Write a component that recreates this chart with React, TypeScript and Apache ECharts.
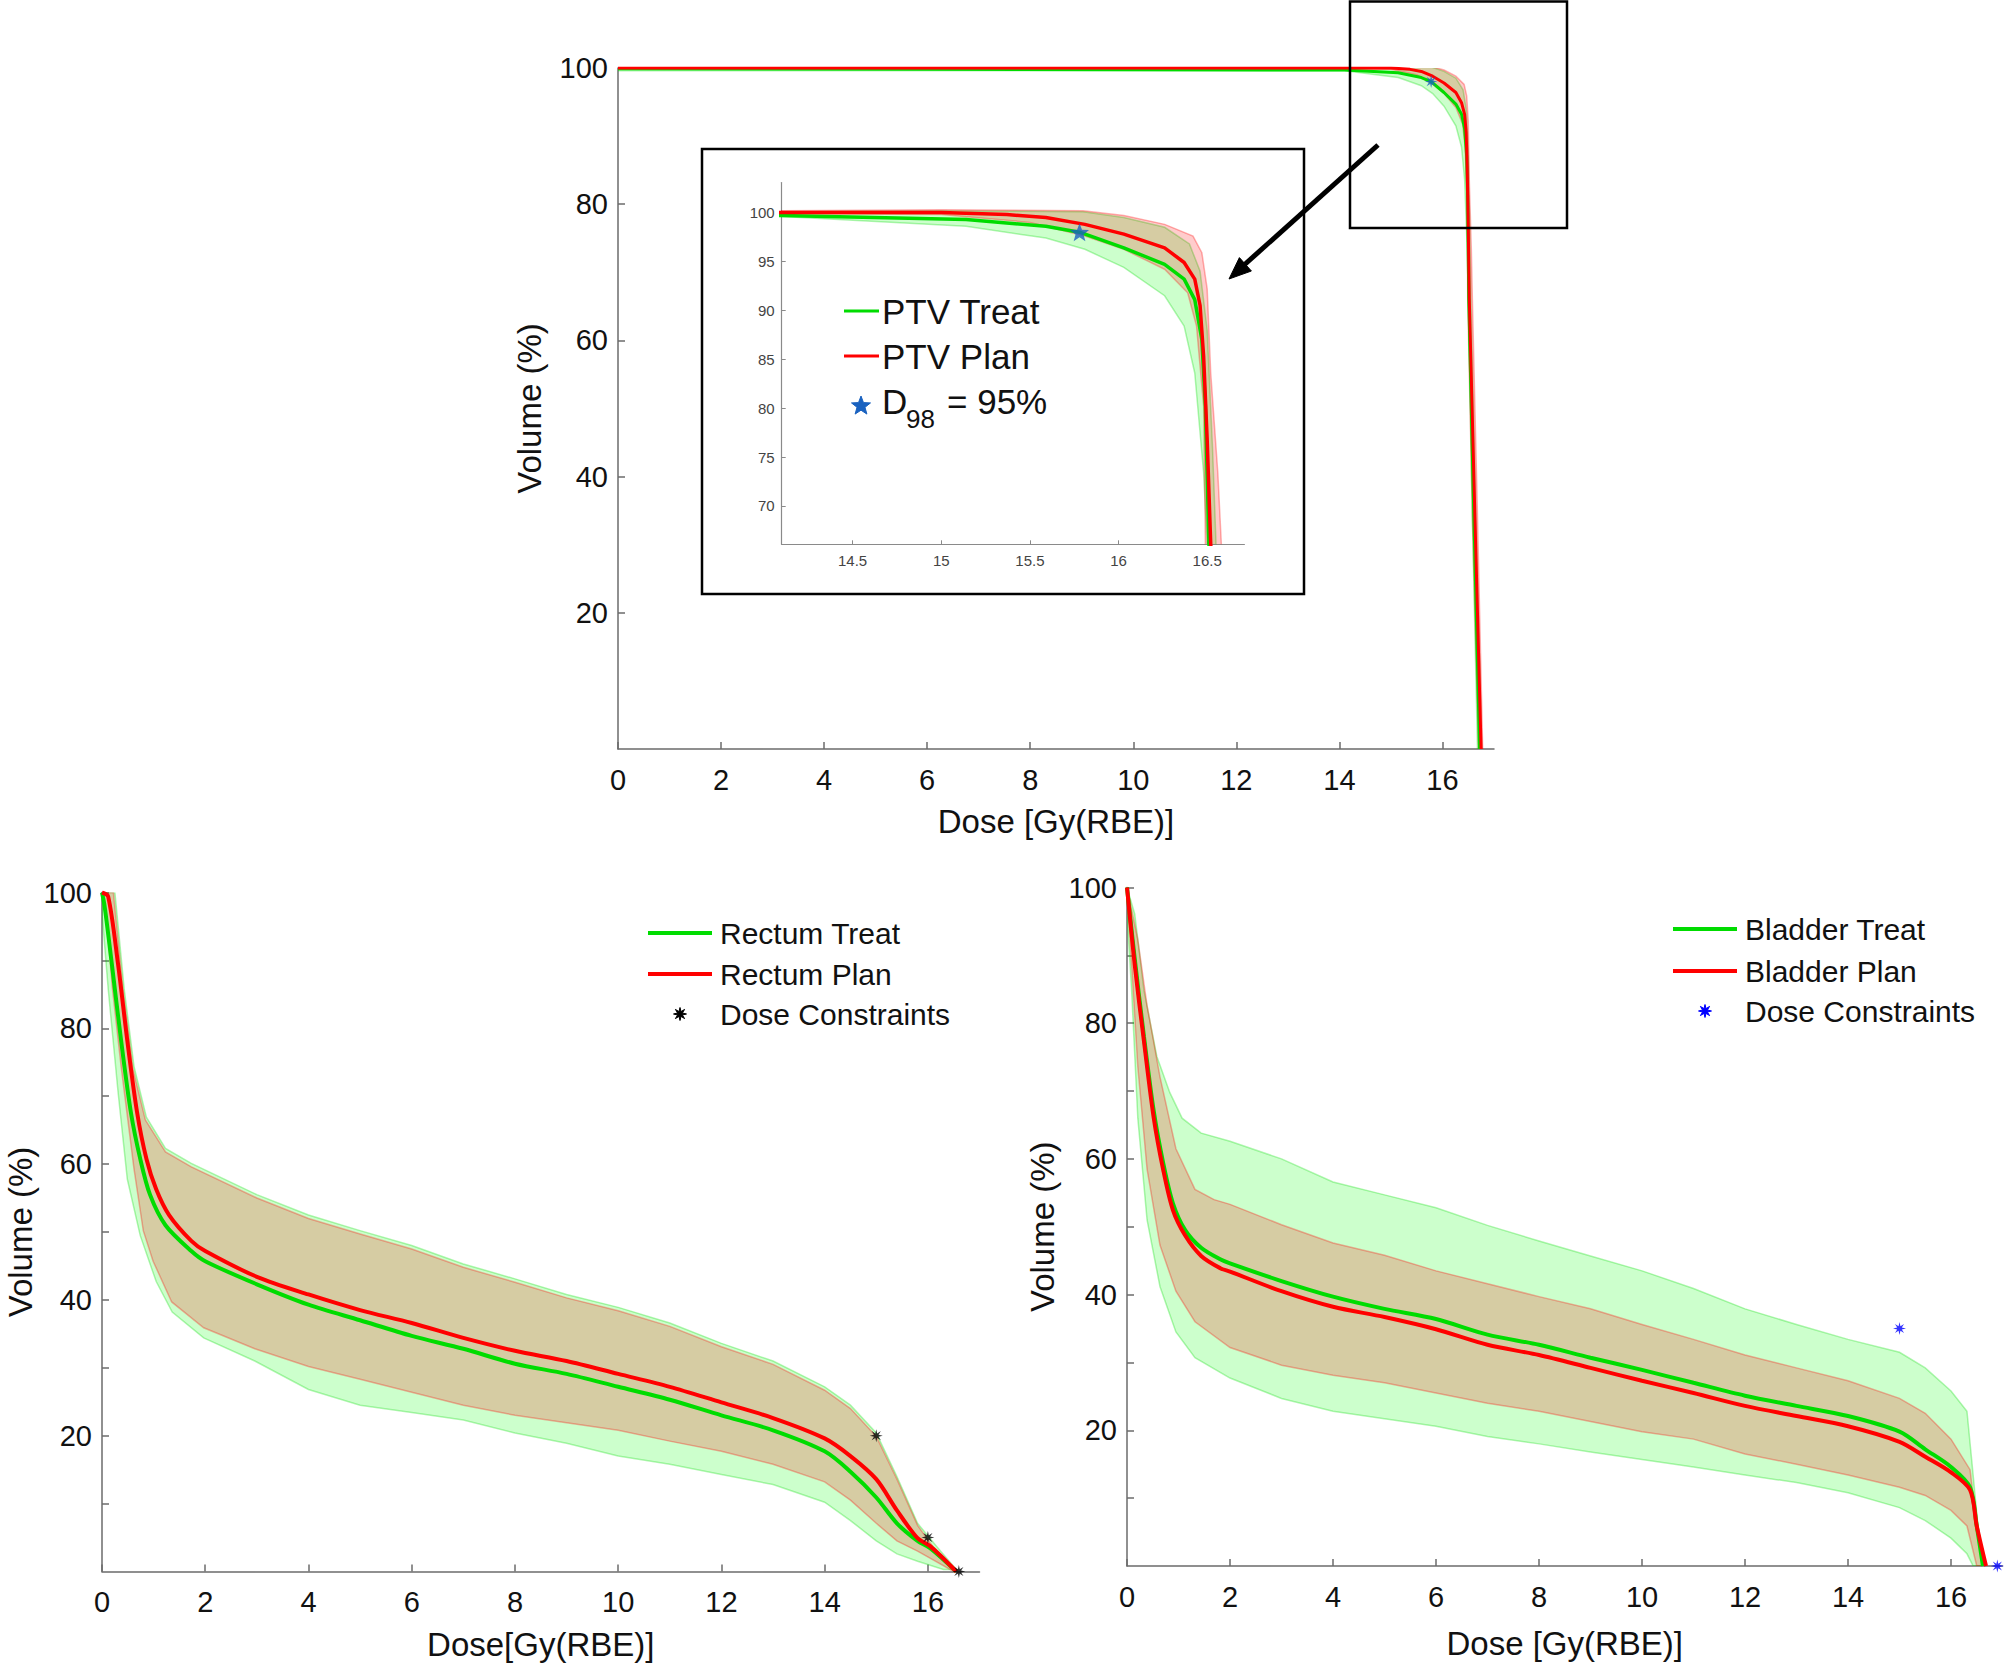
import React, { useEffect, useRef } from "react";
import * as echarts from "echarts";

// ---------- PTV (top chart + inset) ----------
const ptvPlanDose = [0, 14.1, 15.0, 15.37, 15.59, 15.81, 16.03, 16.26, 16.37, 16.43, 16.46, 16.48, 16.5, 16.52, 16.63, 16.75];
const ptvPlanVol = [100, 100, 100, 99.8, 99.5, 98.8, 97.8, 96.4, 94.9, 93.2, 90.5, 85.3, 76.8, 66.1, 34, 0];
const ptvTreatDose = [0, 6, 14.1, 15.14, 15.59, 15.78, 16.03, 16.26, 16.37, 16.43, 16.47, 16.49, 16.51, 16.61, 16.72];
const ptvTreatVol = [99.9, 99.8, 99.7, 99.3, 98.6, 98.0, 96.4, 94.7, 93.2, 91.1, 87.0, 80.2, 66.1, 34, 0];
const ptvPlanHiDose = [0, 14.1, 15.0, 15.8, 16.03, 16.26, 16.42, 16.47, 16.5, 16.52, 16.56, 16.58, 16.68, 16.78];
const ptvPlanHiVol = [100, 100.2, 100.3, 100.2, 99.7, 98.8, 97.6, 95.9, 92.2, 83.6, 73.4, 66.1, 34, 0];
const ptvPlanLoDose = [0, 14.1, 15.0, 15.5, 15.81, 16.03, 16.26, 16.39, 16.44, 16.48, 16.49, 16.58, 16.7];
const ptvPlanLoVol = [100, 99.9, 99.8, 99.0, 97.6, 96.25, 94.2, 91.8, 88.4, 80.2, 66.1, 34, 0];
const ptvTreatHiDose = [0, 14.1, 15.0, 15.8, 16.03, 16.26, 16.4, 16.46, 16.5, 16.53, 16.55, 16.65, 16.76];
const ptvTreatHiVol = [100, 100.1, 100.2, 100.1, 99.5, 98.5, 96.8, 94.0, 88.0, 76.0, 66.1, 34, 0];
const ptvTreatLoDose = [0, 14.1, 15.14, 15.59, 15.81, 16.03, 16.26, 16.37, 16.43, 16.48, 16.5, 16.58, 16.68];
const ptvTreatLoVol = [99.6, 99.6, 98.6, 97.4, 96.25, 94.4, 91.5, 88.4, 83.6, 73.4, 66.1, 34, 0];
const d98Point = [15.78, 98.0];

// ---------- Rectum ----------
const rectumPlanDose = [0, 0.12, 0.31, 0.49, 0.68, 0.86, 1.05, 1.3, 1.73, 2, 3, 4, 5, 6, 7, 8, 9, 10, 11, 12, 13, 14, 14.5, 15, 15.4, 15.8, 16.05, 16.55];
const rectumPlanVol = [100, 99.4, 89.5, 78.2, 67.6, 60.8, 56.3, 52.5, 48.7, 47.2, 43.4, 40.8, 38.5, 36.6, 34.4, 32.5, 31.0, 29.1, 27.2, 24.9, 22.6, 19.6, 17.0, 13.6, 9.0, 4.9, 3.7, 0];
const rectumTreatDose = [0, 0.05, 0.19, 0.37, 0.56, 0.74, 0.93, 1.23, 1.73, 2, 3, 4, 5, 6, 7, 8, 9, 10, 11, 12, 13, 14, 14.5, 15, 15.4, 15.8, 16.05, 16.55];
const rectumTreatVol = [100, 98, 89.5, 78.2, 67.6, 60.8, 55.5, 51.0, 47.2, 45.7, 42.3, 39.3, 37.0, 34.7, 32.8, 30.6, 29.1, 27.2, 25.3, 23.0, 20.8, 17.7, 14.7, 10.9, 7.1, 4.5, 3.4, 0];
const rectumTreatHiDose = [0, 0.25, 0.43, 0.62, 0.86, 1.23, 1.73, 3, 4, 5, 6, 7, 8, 9, 10, 11, 12, 13, 14, 14.5, 15, 15.4, 15.8, 16.17, 16.55];
const rectumTreatHiVol = [100, 100, 85.8, 74.4, 66.9, 62.3, 60.1, 55.5, 52.5, 50.2, 48.0, 45.3, 43.1, 40.8, 38.9, 36.6, 33.6, 31.0, 27.2, 24.5, 20.4, 14.0, 7.1, 3.7, 0.3];
const rectumPlanHiDose = [0, 0.22, 0.41, 0.6, 0.84, 1.23, 1.73, 3, 4, 5, 6, 7, 8, 9, 10, 11, 12, 13, 14, 14.5, 15, 15.4, 15.8, 16.1, 16.5];
const rectumPlanHiVol = [100, 100, 85.5, 74, 66.5, 61.8, 59.6, 55, 52, 49.7, 47.5, 44.8, 42.6, 40.3, 38.4, 36.1, 33.1, 30.5, 26.7, 24, 19.9, 13.6, 6.8, 3.6, 0.2];
const rectumPlanLoDose = [0, 0.1, 0.2, 0.37, 0.62, 0.8, 0.99, 1.35, 1.97, 2.96, 4, 5, 6, 7, 8, 9, 10, 11, 12, 13, 14, 14.5, 15, 15.4, 15.8, 16.5];
const rectumPlanLoVol = [100, 95, 86, 74.4, 59.3, 50.2, 45.7, 39.7, 35.9, 32.8, 30.2, 28.3, 26.4, 24.5, 23.0, 21.9, 20.8, 19.2, 17.7, 15.8, 13.2, 10.5, 7.1, 4.5, 3.0, 0];
const rectumTreatLoDose = [0, 0.12, 0.31, 0.49, 0.74, 1.05, 1.36, 1.97, 2.96, 4, 5, 6, 7, 8, 9, 10, 11, 12, 13, 14, 14.5, 15, 15.4, 15.8, 16.3];
const rectumTreatLoVol = [97, 85.8, 70.7, 57.8, 49.5, 42.7, 38.2, 34.4, 31.0, 26.8, 24.5, 23.4, 22.3, 20.4, 18.9, 17.0, 15.8, 14.3, 12.8, 10.2, 7.5, 4.5, 2.6, 1.5, 0.3];
const rectumConstraintDose = [15, 16, 16.6];
const rectumConstraintVol = [20, 5, 0];

// ---------- Bladder ----------
const bladderPlanDose = [0, 0.15, 0.33, 0.52, 0.7, 0.89, 1.13, 1.44, 1.81, 2, 3, 4, 5, 6, 7, 8, 9, 10, 11, 12, 13, 14, 15, 15.5, 16, 16.37, 16.5, 16.68];
const bladderPlanVol = [100, 88.6, 77.3, 66.0, 58.5, 52.5, 48.7, 45.7, 43.9, 43.4, 40.5, 38.2, 36.7, 34.9, 32.6, 31.1, 29.2, 27.3, 25.5, 23.6, 22.1, 20.6, 18.3, 16.1, 13.8, 11.2, 5.9, 0];
const bladderTreatDose = [0, 0.15, 0.33, 0.52, 0.7, 0.89, 1.13, 1.44, 1.81, 2, 3, 4, 5, 6, 7, 8, 9, 10, 11, 12, 13, 14, 15, 15.5, 16, 16.37, 16.5, 16.62];
const bladderTreatVol = [100, 89.5, 78, 67, 59.5, 53.5, 49.5, 46.9, 45.2, 44.6, 42.0, 39.7, 37.9, 36.4, 34.1, 32.6, 30.7, 28.9, 27.0, 25.1, 23.6, 22.1, 19.8, 17.2, 14.6, 11.6, 5.9, 0];
const bladderTreatHiDose = [0, 0.15, 0.33, 0.58, 0.83, 1.07, 1.44, 2, 3, 4, 5, 6, 7, 8, 9, 10, 11, 12, 13, 14, 15, 15.5, 16, 16.31, 16.43, 16.55, 16.68];
const bladderTreatHiVol = [100, 96.1, 84.8, 75.1, 69.8, 66.0, 63.8, 62.6, 60.0, 56.6, 54.7, 52.8, 50.2, 47.9, 45.7, 43.5, 40.9, 37.9, 35.6, 33.4, 31.5, 29.2, 25.8, 22.8, 13.4, 3.7, 0];
const bladderPlanHiDose = [0, 0.21, 0.39, 0.64, 0.95, 1.32, 1.69, 2, 3, 4, 5, 6, 7, 8, 9, 10, 11, 12, 13, 14, 15, 15.5, 16, 16.37, 16.5, 16.62];
const bladderPlanHiVol = [100, 92.3, 82.6, 72.1, 61.5, 55.5, 54.0, 53.3, 50.3, 47.6, 45.8, 43.5, 41.6, 39.7, 37.9, 35.6, 33.4, 31.1, 29.2, 27.3, 24.7, 22.5, 18.7, 14.2, 5.9, 0];
const bladderPlanLoDose = [0, 0.09, 0.21, 0.39, 0.64, 0.95, 1.32, 2, 3, 4, 5, 6, 7, 8, 9, 10, 11, 12, 13, 14, 15, 15.5, 16, 16.31, 16.5];
const bladderPlanLoVol = [99, 88.6, 73.6, 58.5, 47.3, 40.5, 36.0, 32.2, 29.6, 28.1, 27.0, 25.5, 24.0, 22.8, 21.3, 19.8, 18.7, 16.5, 15.0, 13.4, 11.6, 10.4, 8.2, 5.9, 0];
const bladderTreatLoDose = [0, 0.09, 0.21, 0.39, 0.64, 0.95, 1.32, 2, 3, 4, 5, 6, 7, 8, 9, 10, 11, 12, 13, 14, 15, 15.5, 16, 16.31, 16.43];
const bladderTreatLoVol = [96, 84.8, 66.0, 51.0, 41.2, 34.5, 30.7, 27.7, 24.7, 22.8, 21.7, 20.6, 19.1, 18.0, 16.8, 15.7, 14.6, 13.4, 12.3, 10.8, 8.6, 6.7, 4.1, 1.8, 0];
const bladderConstraintDose = [15, 16.9];
const bladderConstraintVol = [35, 0];

// ---------- ticks ----------
const mainXTicks = [0, 2, 4, 6, 8, 10, 12, 14, 16];
const mainYLabels = [20, 40, 60, 80, 100];
const organYTicks = [10, 20, 30, 40, 50, 60, 70, 80, 90, 100];
const insetXTicks = [14.5, 15, 15.5, 16, 16.5];
const insetYTicks = [70, 75, 80, 85, 90, 95, 100];

const FONT = '"Liberation Sans", Arial, Helvetica, sans-serif';
const GREEN = "#00dc00";
const RED = "#ff0000";
const GREEN_FILL = "rgba(0,255,0,0.2)";
const RED_FILL = "rgba(255,0,0,0.2)";
const GREEN_EDGE = "rgba(0,220,0,0.3)";
const RED_EDGE = "rgba(255,0,0,0.3)";

const zip = (xs: number[], ys: number[]) => xs.map((x, i) => [x, ys[i]]);

function starPoints(n: number, cx: number, cy: number, rOut: number, rIn: number) {
  const pts: number[][] = [];
  for (let i = 0; i < 2 * n; i++) {
    const a = (Math.PI * i) / n - Math.PI / 2;
    const r = i % 2 === 0 ? rOut : rIn;
    pts.push([cx + r * Math.cos(a), cy + r * Math.sin(a)]);
  }
  return pts;
}
function starPath(n: number, rIn: number) {
  const pts = starPoints(n, 50, 50, 50, 50 * rIn);
  return "path://" + pts.map((p, i) => (i === 0 ? "M" : "L") + p[0].toFixed(2) + " " + p[1].toFixed(2)).join(" ") + " Z";
}
const ASTERISK = starPath(8, 0.38);
const STAR5 = starPath(5, 0.42);

function bandSeries(idx: number, hx: number[], hy: number[], lx: number[], ly: number[], fill: string, stroke: string) {
  return {
    type: "custom",
    xAxisIndex: idx,
    yAxisIndex: idx,
    silent: true,
    clip: true,
    data: zip(hx, hy),
    renderItem: (params: any, api: any) => {
      if (params.dataIndex !== 0) return null;
      const up = hx.map((x, k) => api.coord([x, hy[k]]));
      const lo = lx.map((x, k) => api.coord([x, ly[k]])).reverse();
      return {
        type: "polygon",
        shape: { points: up.concat(lo) },
        style: { fill, stroke, lineWidth: 1.5 },
      };
    },
  };
}

function lineSeries(idx: number, name: string, xs: number[], ys: number[], color: string, width: number, smooth: number | boolean) {
  return {
    type: "line",
    name,
    xAxisIndex: idx,
    yAxisIndex: idx,
    data: zip(xs, ys),
    showSymbol: false,
    symbol: "none",
    smooth,
    clip: true,
    lineStyle: { color, width },
    itemStyle: { color },
  };
}

function scatterSeries(idx: number, name: string, xs: number[], ys: number[], color: string, symbol: string, size: number) {
  return {
    type: "scatter",
    name,
    xAxisIndex: idx,
    yAxisIndex: idx,
    data: zip(xs, ys),
    symbol,
    symbolSize: size,
    symbolKeepAspect: true,
    itemStyle: { color },
    clip: false,
    z: 5,
  };
}

const axisLineStyle = { color: "#6b6b6b", width: 1.5 };

function xAxisMain(gridIndex: number, name: string, nameGap: number) {
  return {
    type: "value",
    gridIndex,
    min: 0,
    max: 17,
    interval: 2,
    name,
    nameLocation: "middle",
    nameGap,
    nameTextStyle: { fontSize: 33, color: "#111", fontFamily: FONT },
    axisLine: { show: true, onZero: false, lineStyle: axisLineStyle },
    axisTick: { show: true, inside: true, length: 7, lineStyle: axisLineStyle, customValues: mainXTicks },
    axisLabel: { show: true, fontSize: 29, color: "#111", margin: 16, fontFamily: FONT, customValues: mainXTicks },
    splitLine: { show: false },
  };
}

function yAxisMain(gridIndex: number, ticks: number[], nameGap: number) {
  return {
    type: "value",
    gridIndex,
    min: 0,
    max: 100,
    interval: 10,
    name: "Volume (%)",
    nameLocation: "middle",
    nameGap,
    nameTextStyle: { fontSize: 33, color: "#111", fontFamily: FONT },
    axisLine: { show: true, onZero: false, lineStyle: axisLineStyle },
    axisTick: { show: true, inside: true, length: 7, lineStyle: axisLineStyle, customValues: ticks },
    axisLabel: { show: true, fontSize: 29, color: "#111", margin: 10, fontFamily: FONT, customValues: mainYLabels },
    splitLine: { show: false },
  };
}

function legendGroup(x: number, ys: number[], labels: string[], markerColor: string) {
  const lineX1 = x;
  const lineX2 = x + 64;
  const tx = x + 72;
  const els: any[] = [
    { type: "line", shape: { x1: lineX1, y1: ys[0], x2: lineX2, y2: ys[0] }, style: { stroke: GREEN, lineWidth: 4 } },
    { type: "line", shape: { x1: lineX1, y1: ys[1], x2: lineX2, y2: ys[1] }, style: { stroke: RED, lineWidth: 4 } },
    { type: "polygon", shape: { points: starPoints(8, (lineX1 + lineX2) / 2, ys[2], 6.5, 2.6) }, style: { fill: markerColor, stroke: markerColor, lineWidth: 1 } },
  ];
  labels.forEach((t, i) => {
    els.push({
      type: "text",
      x: tx,
      y: ys[i],
      style: { text: t, fontSize: 30, fontFamily: FONT, fill: "#111", verticalAlign: "middle", align: "left" },
    });
  });
  return els;
}

export default function App() {
  const ref = useRef<HTMLDivElement>(null);
  useEffect(() => {
    if (!ref.current) return;
    const chart = echarts.init(ref.current, null, { renderer: "svg" });

    const option: any = {
      animation: false,
      backgroundColor: "#ffffff",
      textStyle: { fontFamily: FONT },
      grid: [
        { left: 618, top: 68, width: 876, height: 681, containLabel: false, outerBoundsMode: "none" },
        { left: 102, top: 892.5, width: 877.5, height: 679, containLabel: false, outerBoundsMode: "none" },
        { left: 1127, top: 887.5, width: 875.5, height: 678.5, containLabel: false, outerBoundsMode: "none" },
        { left: 781.7, top: 182.6, width: 462.7, height: 361.7, containLabel: false, outerBoundsMode: "none" },
      ],
      xAxis: [
        xAxisMain(0, "Dose [Gy(RBE)]", 56),
        xAxisMain(1, "Dose[Gy(RBE)]", 56),
        xAxisMain(2, "Dose [Gy(RBE)]", 61),
        {
          type: "value",
          gridIndex: 3,
          min: 14.1,
          max: 16.71,
          axisLine: { show: true, onZero: false, lineStyle: { color: "#8a8a8a", width: 1.2 } },
          axisTick: { show: true, inside: true, length: 4, lineStyle: { color: "#8a8a8a", width: 1 }, customValues: insetXTicks },
          axisLabel: { show: true, fontSize: 15, color: "#444", margin: 9, fontFamily: FONT, customValues: insetXTicks },
          splitLine: { show: false },
        },
      ],
      yAxis: [
        yAxisMain(0, mainYLabels, 72),
        yAxisMain(1, organYTicks, 65),
        yAxisMain(2, organYTicks, 68),
        {
          type: "value",
          gridIndex: 3,
          min: 66.08,
          max: 103.07,
          axisLine: { show: true, onZero: false, lineStyle: { color: "#8a8a8a", width: 1.2 } },
          axisTick: { show: true, inside: true, length: 4, lineStyle: { color: "#8a8a8a", width: 1 }, customValues: insetYTicks },
          axisLabel: { show: true, fontSize: 15, color: "#444", margin: 7, fontFamily: FONT, customValues: insetYTicks },
          splitLine: { show: false },
        },
      ],
      series: [
        // top main
        bandSeries(0, ptvTreatHiDose, ptvTreatHiVol, ptvTreatLoDose, ptvTreatLoVol, GREEN_FILL, GREEN_EDGE),
        bandSeries(0, ptvPlanHiDose, ptvPlanHiVol, ptvPlanLoDose, ptvPlanLoVol, RED_FILL, RED_EDGE),
        lineSeries(0, "PTV Treat", ptvTreatDose, ptvTreatVol, GREEN, 3, false),
        lineSeries(0, "PTV Plan", ptvPlanDose, ptvPlanVol, RED, 3, false),
        scatterSeries(0, "D98 = 95%", [d98Point[0]], [d98Point[1]], "#1a62c0", ASTERISK, 13),
        // inset
        bandSeries(3, ptvTreatHiDose, ptvTreatHiVol, ptvTreatLoDose, ptvTreatLoVol, GREEN_FILL, GREEN_EDGE),
        bandSeries(3, ptvPlanHiDose, ptvPlanHiVol, ptvPlanLoDose, ptvPlanLoVol, RED_FILL, RED_EDGE),
        lineSeries(3, "PTV Treat", ptvTreatDose, ptvTreatVol, GREEN, 3.5, false),
        lineSeries(3, "PTV Plan", ptvPlanDose, ptvPlanVol, RED, 3.5, false),
        scatterSeries(3, "D98 = 95%", [d98Point[0]], [d98Point[1]], "#1a62c0", STAR5, 19),
        // rectum
        bandSeries(1, rectumTreatHiDose, rectumTreatHiVol, rectumTreatLoDose, rectumTreatLoVol, GREEN_FILL, GREEN_EDGE),
        bandSeries(1, rectumPlanHiDose, rectumPlanHiVol, rectumPlanLoDose, rectumPlanLoVol, RED_FILL, RED_EDGE),
        lineSeries(1, "Rectum Treat", rectumTreatDose, rectumTreatVol, GREEN, 4, 0.3),
        lineSeries(1, "Rectum Plan", rectumPlanDose, rectumPlanVol, RED, 4, 0.3),
        scatterSeries(1, "Dose Constraints", rectumConstraintDose, rectumConstraintVol, "#000000", ASTERISK, 13),
        // bladder
        bandSeries(2, bladderTreatHiDose, bladderTreatHiVol, bladderTreatLoDose, bladderTreatLoVol, GREEN_FILL, GREEN_EDGE),
        bandSeries(2, bladderPlanHiDose, bladderPlanHiVol, bladderPlanLoDose, bladderPlanLoVol, RED_FILL, RED_EDGE),
        lineSeries(2, "Bladder Treat", bladderTreatDose, bladderTreatVol, GREEN, 4, 0.3),
        lineSeries(2, "Bladder Plan", bladderPlanDose, bladderPlanVol, RED, 4, 0.3),
        scatterSeries(2, "Dose Constraints", bladderConstraintDose, bladderConstraintVol, "#0000ff", ASTERISK, 13),
      ],
      graphic: [
        // inset frame
        { type: "rect", shape: { x: 702, y: 149, width: 602, height: 445 }, style: { fill: "none", stroke: "#000", lineWidth: 2.5 }, z: 10 },
        // zoom frame
        { type: "rect", shape: { x: 1350, y: 1.5, width: 217, height: 226.5 }, style: { fill: "none", stroke: "#000", lineWidth: 2.5 }, z: 10 },
        // arrow
        { type: "line", shape: { x1: 1378, y1: 145, x2: 1243, y2: 266 }, style: { stroke: "#000", lineWidth: 5 }, z: 10 },
        { type: "polygon", shape: { points: [[1229, 279], [1251.4, 271.0], [1239.4, 257.6]] }, style: { fill: "#000", stroke: "#000", lineWidth: 1 }, z: 10 },
        // inset legend
        { type: "line", shape: { x1: 844, y1: 311, x2: 879, y2: 311 }, style: { stroke: GREEN, lineWidth: 3 }, z: 10 },
        { type: "text", x: 882, y: 311, style: { text: "PTV Treat", fontSize: 35, fontFamily: FONT, fill: "#111", verticalAlign: "middle", align: "left" }, z: 10 },
        { type: "line", shape: { x1: 844, y1: 356, x2: 879, y2: 356 }, style: { stroke: RED, lineWidth: 3 }, z: 10 },
        { type: "text", x: 882, y: 356, style: { text: "PTV Plan", fontSize: 35, fontFamily: FONT, fill: "#111", verticalAlign: "middle", align: "left" }, z: 10 },
        { type: "polygon", shape: { points: starPoints(5, 861, 406, 10, 4.2) }, style: { fill: "#1a62c0", stroke: "#1a62c0", lineWidth: 1 }, z: 10 },
        { type: "text", x: 882, y: 401, style: { text: "D", fontSize: 35, fontFamily: FONT, fill: "#111", verticalAlign: "middle", align: "left" }, z: 10 },
        { type: "text", x: 906, y: 419, style: { text: "98", fontSize: 26, fontFamily: FONT, fill: "#111", verticalAlign: "middle", align: "left" }, z: 10 },
        { type: "text", x: 947, y: 401, style: { text: "= 95%", fontSize: 35, fontFamily: FONT, fill: "#111", verticalAlign: "middle", align: "left" }, z: 10 },
        // rectum legend
        ...legendGroup(648, [933, 974, 1014], ["Rectum Treat", "Rectum Plan", "Dose Constraints"], "#000000"),
        // bladder legend
        ...legendGroup(1673, [929, 971, 1011], ["Bladder Treat", "Bladder Plan", "Dose Constraints"], "#0000ff"),
      ],
    };

    chart.setOption(option);
    return () => chart.dispose();
  }, []);

  return (
    <div
      ref={ref}
      style={{ position: "absolute", left: 0, top: 0, width: 2008, height: 1665, background: "#fff" }}
    />
  );
}
